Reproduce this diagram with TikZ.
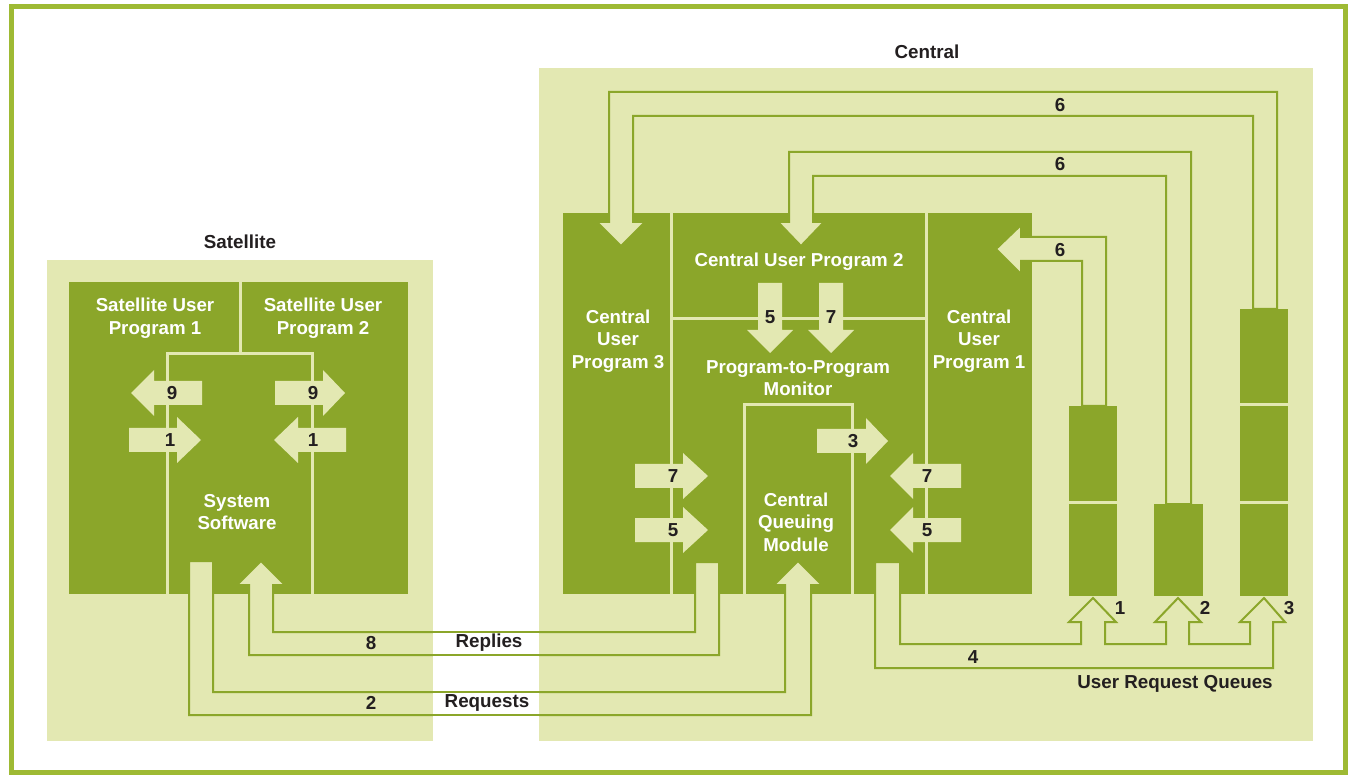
\documentclass[tikz,border=0pt]{standalone}
\usepackage{fontspec}
\setmainfont{Liberation Sans}
\definecolor{lite}{RGB}{227,232,178}
\definecolor{dgreen}{RGB}{139,166,42}
\definecolor{framec}{RGB}{158,186,52}
\definecolor{ink}{RGB}{35,31,32}
% horizontal block arrow: tail x, head base x, tip x, centre y
\newcommand\myharrow[4]{\fill[lite] (#1,#4-12) -- (#2,#4-12) -- (#2,#4-23) -- (#3,#4) -- (#2,#4+23) -- (#2,#4+12) -- (#1,#4+12) -- cycle;}
% vertical block arrow: centre x, tail y, head base y, tip y
\newcommand\myvarrow[4]{\fill[lite] (#1-12,#2) -- (#1+12,#2) -- (#1+12,#3) -- (#1+23,#3) -- (#1,#4) -- (#1-23,#3) -- (#1-12,#3) -- cycle;}
\begin{document}
\begin{tikzpicture}[x=1pt,y=-1pt,
  wtext/.style={text=white, font=\bfseries\fontsize{18.7}{22.5}\selectfont, align=center, inner sep=0pt},
  ktext/.style={text=ink, font=\bfseries\fontsize{18.8}{22}\selectfont, align=center, inner sep=0pt},
  pipeline/.style={draw=dgreen, line width=2pt, fill=lite, line join=miter},
  gapline/.style={draw=dgreen, line width=2pt},
  divider/.style={draw=lite, line width=3pt},
  darkbox/.style={fill=dgreen},
  panel/.style={fill=lite}]
\useasboundingbox (0,0) rectangle (1350,775);
\fill[white] (0,0) rectangle (1350,775);
\draw[framec, line width=5pt] (11,7) rectangle (1345,772);
% panels
\fill[panel] (47,260) rectangle (433,741);
\fill[panel] (539,68) rectangle (1313,741);
% dark boxes
\fill[darkbox] (69,282) rectangle (408,594);
\fill[darkbox] (563,213) rectangle (1032,594);
% queues
\fill[darkbox] (1069,406) rectangle (1117,596);
\fill[darkbox] (1154,504) rectangle (1203,596);
\fill[darkbox] (1240,309) rectangle (1288,596);
\draw[divider] (1069,502) -- (1117,502);
\draw[divider] (1240,405) -- (1288,405) (1240,502) -- (1288,502);
% pipes 6
\draw[pipeline] (1253,309) -- (1253,116) -- (633,116) -- (633,222) -- (645,222) -- (621,246) -- (597,222) -- (609,222) -- (609,92) -- (1277,92) -- (1277,309) -- cycle;
\draw[pipeline] (1166,504) -- (1166,176) -- (813,176) -- (813,222) -- (824,222) -- (801,246) -- (778,222) -- (789,222) -- (789,152) -- (1191,152) -- (1191,504) -- cycle;
\draw[pipeline] (1082,406) -- (1082,261) -- (1021,261) -- (1021,274) -- (996,249) -- (1021,225) -- (1021,237) -- (1106,237) -- (1106,406) -- cycle;
% pipe 4
\draw[pipeline] (875,562) -- (875,668) -- (1273,668) -- (1273,622) -- (1285,622) -- (1264,598) -- (1240,622) -- (1250,622) -- (1250,644) -- (1189,644) -- (1189,622) -- (1201,622) -- (1178,598) -- (1155,622) -- (1166,622) -- (1166,644) -- (1105,644) -- (1105,622) -- (1116,622) -- (1093,598) -- (1069,622) -- (1081,622) -- (1081,644) -- (900,644) -- (900,562) -- cycle;
% replies pipe 8
\draw[pipeline] (695,562) -- (695,632) -- (273,632) -- (273,585) -- (285,585) -- (261,561) -- (237,585) -- (249,585) -- (249,655) -- (719,655) -- (719,562) -- cycle;
% requests pipe 2
\draw[pipeline] (189,561) -- (189,715) -- (811,715) -- (811,585) -- (822,585) -- (798,561) -- (774,585) -- (785,585) -- (785,692) -- (213,692) -- (213,561) -- cycle;
% white gap between panels
\fill[white] (433,600) rectangle (539,740);
\draw[gapline] (433,632) -- (539,632) (433,655) -- (539,655) (433,692) -- (539,692) (433,715) -- (539,715);
% dividers
\draw[divider] (240,282) -- (240,354);
\draw[divider] (167,594) -- (167,354) -- (312,354) -- (312,594);
\draw[divider] (671,213) -- (671,594);
\draw[divider] (926,213) -- (926,594);
\draw[divider] (671,319) -- (926,319);
\draw[divider] (744,594) -- (744,405) -- (852,405) -- (852,594);
% block arrows in satellite
\myharrow{202}{154}{131}{393}
\myharrow{275}{323}{345}{393}
\myharrow{129}{177}{201}{440}
\myharrow{346}{298}{274}{440}
% block arrows in central
\myvarrow{770}{283}{330}{353}
\myvarrow{831}{283}{330}{353}
\myharrow{817}{866}{888}{441}
\myharrow{635}{683}{708}{476}
\myharrow{635}{683}{708}{530}
\myharrow{961}{913}{890}{476}
\myharrow{961}{913}{890}{530}
% titles
\node[ktext] (tsat) at (240,242) {Satellite};
\node[ktext] (tcen) at (927,52) {Central};
% white labels
\node[wtext] (sup1) at (155,318) {Satellite User\\Program 1};
\node[wtext] (sup2) at (323,318) {Satellite User\\Program 2};
\node[wtext] (sys) at (237,512) {System\\Software};
\node[wtext] (cup3) at (618,341) {Central\\User\\Program 3};
\node[wtext] (cup2) at (799,262) {Central User Program 2};
\node[wtext] (ptp) at (798,378) {Program-to-Program\\Monitor};
\node[wtext] (cqm) at (796,522) {Central\\Queuing\\Module};
\node[wtext] (cup1) at (979,341) {Central\\User\\Program 1};
% numbers
\node[ktext] (n9a) at (172,393) {9};
\node[ktext] (n9b) at (313,393) {9};
\node[ktext] (n1a) at (170,440) {1};
\node[ktext] (n1b) at (313,440) {1};
\node[ktext] (n5a) at (770,317) {5};
\node[ktext] (n7a) at (831,317) {7};
\node[ktext] (n3) at (853,441) {3};
\node[ktext] (n7b) at (673,476) {7};
\node[ktext] (n5b) at (673,530) {5};
\node[ktext] (n7c) at (927,476) {7};
\node[ktext] (n5c) at (927,530) {5};
\node[ktext] (n6a) at (1060,105) {6};
\node[ktext] (n6b) at (1060,164) {6};
\node[ktext] (n6c) at (1060,250) {6};
\node[ktext] (q1) at (1120,608) {1};
\node[ktext] (q2) at (1205,608) {2};
\node[ktext] (q3) at (1289,608) {3};
\node[ktext] (n4) at (973,657) {4};
\node[ktext] (n8) at (371,643) {8};
\node[ktext] (n2) at (371,703) {2};
\node[ktext] (rep) at (489,643) {Replies};
\node[ktext] (req) at (487,703) {Requests};
\node[ktext] (urq) at (1175,684) {User Request Queues};
\end{tikzpicture}
\end{document}
